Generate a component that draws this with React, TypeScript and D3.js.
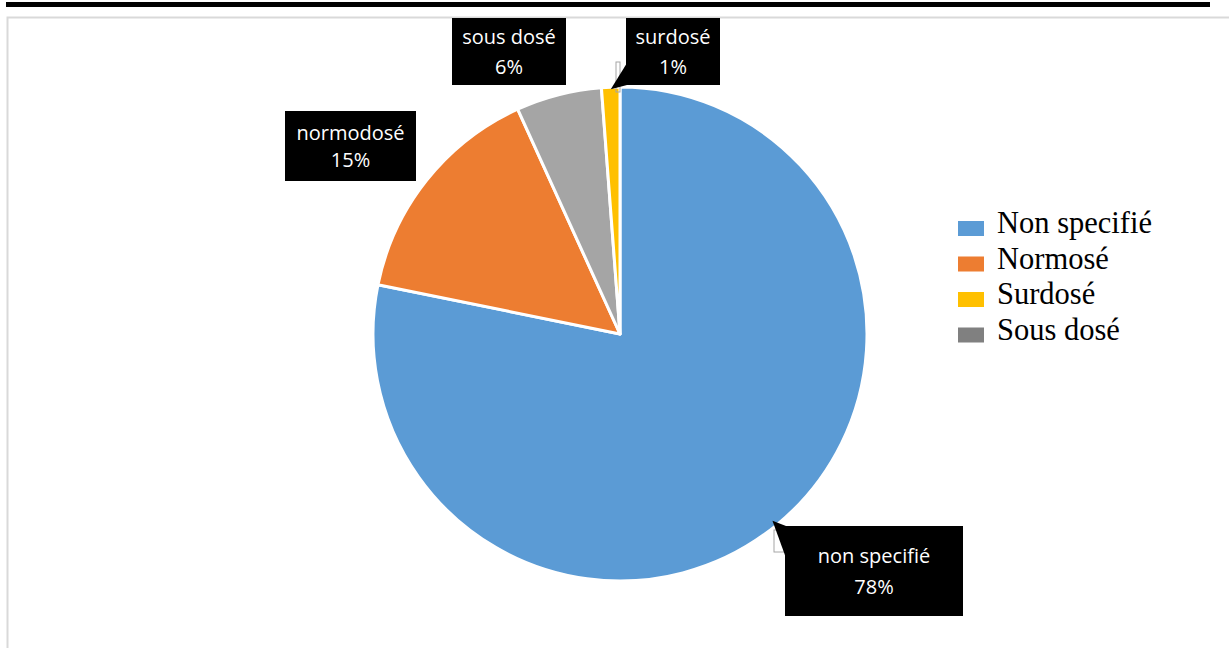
import React from "react";
import * as d3 from "d3";

const categories = ["non specifié", "normodosé", "sous dosé", "surdosé"];
const values = [78.2, 15.0, 5.6, 1.2];
const sliceColors = ["#5b9bd5", "#ed7d31", "#a5a5a5", "#ffc000"];

const legendLabels = ["Non specifié", "Normosé", "Surdosé", "Sous dosé"];
const legendColors = ["#5b9bd5", "#ed7d31", "#ffc000", "#808080"];

// label box layout (style, not data)
const labelBoxes = [
  { x: 785, y: 526, w: 178, h: 90, ptr: true, gap: 31 },
  { x: 285, y: 111, w: 131, h: 70, ptr: false, gap: 27 },
  { x: 452, y: 18, w: 114, h: 67, ptr: false, gap: 30 },
  { x: 626, y: 18, w: 94, h: 67, ptr: true, gap: 30 },
];

const W = 1229;
const H = 648;
const cx = 620;
const cy = 334;
const R = 247;

export default function App() {
  const pie = d3.pie<number>().sort(null).value((d) => d)(values);
  const arc = d3.arc<d3.PieArcDatum<number>>().innerRadius(0).outerRadius(R);
  const total = d3.sum(values);
  const fmt = d3.format(".0%");

  const apex = (i: number) => {
    const a = pie[i];
    const ang = (a.startAngle + a.endAngle) / 2;
    const rr = i === 0 ? R - 6 : R - 2;
    return [cx + rr * Math.sin(ang), cy - rr * Math.cos(ang)];
  };

  return (
    <div style={{ position: "fixed", left: 0, top: 0, width: W, height: H, background: "#fff" }}>
      <svg width={W} height={H} style={{ display: "block" }}>
        <rect x={0} y={0} width={W} height={H} fill="#fff" />
        <rect x={6} y={2} width={1204} height={5} fill="#000" />
        <path d={`M7.5,${H} V17.5 H${W}`} fill="none" stroke="#d9d9d9" strokeWidth={2} />
        <g transform={`translate(${cx},${cy})`}>
          {pie.map((p, i) => (
            <path key={i} d={arc(p) || ""} fill={sliceColors[i]} stroke="#fff" strokeWidth={3} strokeLinejoin="round" />
          ))}
        </g>
        <rect x={774} y={530} width={12} height={22} fill="none" stroke="#a6a6a6" strokeWidth={1} />
        <rect x={616} y={62} width={4} height={30} fill="none" stroke="#a6a6a6" strokeWidth={1} />
        {labelBoxes.map((b, i) => {
          const [ax, ay] = apex(i);
          let pointer = null;
          if (b.ptr) {
            if (i === 0) {
              pointer = <path d={`M${ax},${ay} L${b.x + 1},${b.y} L${b.x + 1},${b.y + 32} Z`} fill="#000" />;
            } else {
              pointer = <path d={`M${ax},${ay} L${b.x + 1},${b.y + 45} L${b.x + 1},${b.y + b.h} Z`} fill="#000" />;
            }
          }
          const mid = b.y + b.h / 2;
          return (
            <g key={i}>
              {pointer}
              <rect x={b.x} y={b.y} width={b.w} height={b.h} fill="#000" />
              <text textAnchor="middle" fill="#fff" fontFamily="'Open Sans', sans-serif" fontSize={20}>
                <tspan x={b.x + b.w / 2} y={mid - b.gap / 2} dy="0.35em">{categories[i]}</tspan>
                <tspan x={b.x + b.w / 2} y={mid + b.gap / 2} dy="0.35em">{fmt(Math.round(values[i]) / 100 * (100 / total))}</tspan>
              </text>
            </g>
          );
        })}
        <g fontFamily="'Liberation Serif', 'Times New Roman', serif" fontSize={30.5} fill="#000">
          {legendLabels.map((l, i) => {
            const by = 233 + i * 35.5;
            return (
              <g key={i}>
                <rect x={958} y={by - 12} width={26} height={15} fill={legendColors[i]} />
                <text x={997} y={by}>{l}</text>
              </g>
            );
          })}
        </g>
      </svg>
    </div>
  );
}
